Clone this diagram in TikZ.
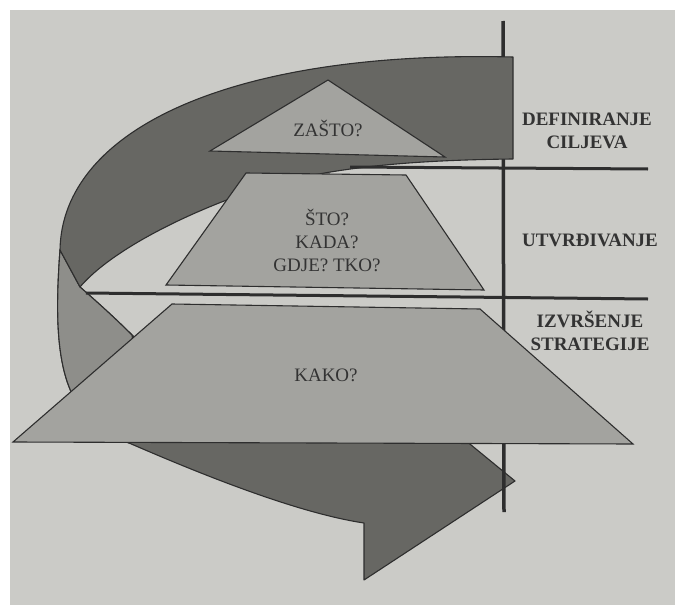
\documentclass[tikz,border=0pt]{standalone}
\usepackage{fontspec}
\setmainfont{Liberation Serif}
\usepackage{tikz}
\definecolor{page}{HTML}{CBCBC7}
\definecolor{bandgrey}{HTML}{676763}
\definecolor{backgrey}{HTML}{8E8E8A}
\definecolor{plategrey}{HTML}{A3A39F}
\definecolor{edge}{HTML}{2E2E2E}
\definecolor{ink}{HTML}{333333}

\begin{document}
\begin{tikzpicture}[x=1pt,y=-1pt,
  band/.style={fill=bandgrey,draw=edge,line width=1.1pt,line join=round},
  back side/.style={fill=backgrey,draw=edge,line width=1.1pt,line join=round},
  plate/.style={fill=plategrey,draw=edge,line width=1.1pt},
  rule/.style={draw=edge,line width=3pt},
  main node/.style={inner sep=0pt,align=center,text=ink,font=\fontsize{19}{23}\selectfont},
  side node/.style={main node,font=\fontsize{19}{23}\selectfont\bfseries}]
        \useasboundingbox (0,0) rectangle (675,605);
        \fill[white] (0,0) rectangle (675,605);
        \fill[page] (10,10) rectangle (675,605);
        %ribbon, lower part and arrow
        \path[band] (60,250) .. controls (52,360) and (62,420) .. (129,443)
              .. controls (180,465) and (290,512) .. (364,523)
              -- (364,580) -- (515,481) -- (465,440)
              .. controls (300,420) and (200,390) .. (132,335)
              .. controls (115,318) and (95,300) .. (80,287) -- cycle;
        %back side of the ribbon
        \path[back side] (60,250) .. controls (52,360) and (62,420) .. (129,443)
              -- (140,392) -- (132,335)
              .. controls (115,318) and (95,300) .. (80,287) -- cycle;
        \draw[rule,line width=3.5pt] (503,21) -- (504,512);
        %ribbon, upper part
        \path[band] (513,57) -- (513,159)
              .. controls (420,160) and (350,166) .. (290,180)
              .. controls (230,194) and (120,240) .. (80,287)
              -- (60,250) .. controls (62,130) and (230,50) .. (513,57) -- cycle;
        %lines
        \draw[rule] (350,167) -- (648,169);
        \draw[rule] (86,293) -- (648,299);
        %plates
        \path[plate] (328,80) -- (445,157) -- (210,151) -- cycle;
        \path[plate] (246,173) -- (406,175) -- (484,290) -- (166,285) -- cycle;
        \path[plate] (172,304) -- (480,309) -- (633,444) -- (13,442) -- cycle;
        %nodes
        \node[main node] (why) at (328,128) {ZAŠTO?};
        \node[main node] (what) at (327,240) {ŠTO?\\KADA?\\GDJE? TKO?};
        \node[main node] (how) at (326,375) {KAKO?};
        \node[side node] (goals) at (587,131) {DEFINIRANJE\\CILJEVA};
        \node[side node] (setting) at (590,240) {UTVRĐIVANJE};
        \node[side node] (doing) at (590,331) {IZVRŠENJE\\STRATEGIJE};
\end{tikzpicture}
\end{document}
